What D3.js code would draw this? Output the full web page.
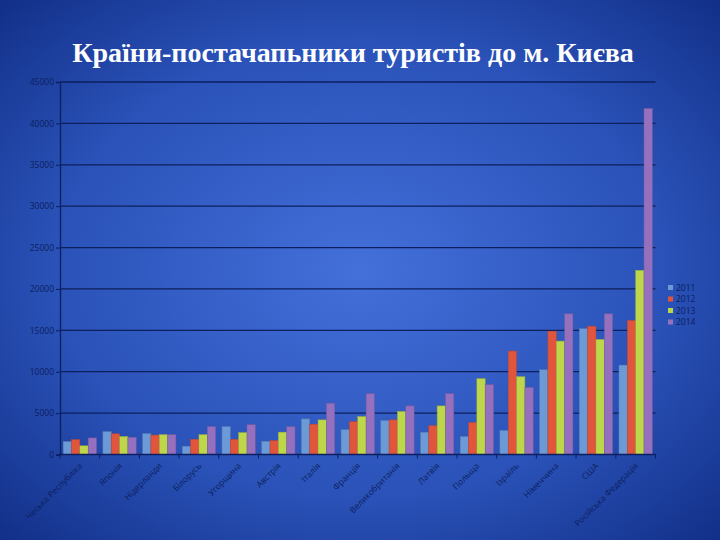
<!DOCTYPE html>
<html><head><meta charset="utf-8">
<script src="https://cdn.jsdelivr.net/npm/d3@7"></script>
<style>html,body{margin:0;padding:0;overflow:hidden;background:#1a3a9a}</style>
</head><body>
<script>
const categories = ["Чеська Республіка","Японія","Нідерланди","Білорусь","Угорщина","Австрія","Італія","Франція","Великобританія","Латвія","Польща","Ізраїль","Німеччина","США","Російська Федерація"];
const years = ["2011","2012","2013","2014"];
const values2011 = [1570,2770,2530,1000,3370,1600,4300,3000,4100,2690,2170,2900,10240,15200,10800];
const values2012 = [1800,2500,2350,1840,1840,1690,3660,3980,4180,3480,3860,12500,14900,15500,16200];
const values2013 = [1050,2170,2400,2400,2650,2700,4180,4580,5200,5870,9160,9400,13700,13900,22250];
const values2014 = [2000,2080,2400,3370,3600,3370,6200,7350,5870,7350,8430,8100,17000,17000,41800];
const yTicks = [0,5000,10000,15000,20000,25000,30000,35000,40000,45000];
const colors = ["#6b9ad6","#e2553d","#bdd64a","#9470bf"];
const series = [values2011, values2012, values2013, values2014];

const W = 720, H = 540;
const svg = d3.select("body").append("svg").attr("width", W).attr("height", H);
const defs = svg.append("defs");
const rg = defs.append("radialGradient").attr("id","bg").attr("cx","50%").attr("cy","50%").attr("r","70%");
rg.append("stop").attr("offset","0%").attr("stop-color","#4470da");
rg.append("stop").attr("offset","60%").attr("stop-color","#2a52b8");
rg.append("stop").attr("offset","100%").attr("stop-color","#123089");
svg.append("rect").attr("width",W).attr("height",H).attr("fill","url(#bg)");

svg.append("text").attr("x",353).attr("y",62).attr("text-anchor","middle")
  .attr("font-family","'Liberation Serif', 'DejaVu Serif', serif").attr("font-weight","bold")
  .attr("font-size",28).attr("fill","#ffffff")
  .text("Країни-постачапьники туристів до м. Києва");

const pLeft = 60, pRight = 655.5, pTop = 82, pBottom = 454.5;
const y = d3.scaleLinear().domain([0,45000]).range([pBottom, pTop]);
const x0 = d3.scaleBand().domain(categories).range([pLeft, pRight]).padding(0);
const bw = x0.bandwidth();
const x1 = d3.scaleBand().domain(years).range([bw*0.08, bw*0.92]).padding(0);

// gridlines
svg.append("g").selectAll("line").data(yTicks.filter(d=>d>0)).join("line")
  .attr("x1",pLeft).attr("x2",pRight).attr("y1",d=>y(d)).attr("y2",d=>y(d))
  .attr("stroke","#0c1f5e").attr("stroke-width",1.3);

// bars
const gCat = svg.append("g").selectAll("g").data(categories).join("g")
  .attr("transform",d=>`translate(${x0(d)},0)`);
gCat.selectAll("rect").data((c,i)=>years.map((yr,k)=>({yr,k,v:series[k][i]}))).join("rect")
  .attr("x",d=>x1(d.yr)).attr("width",x1.bandwidth())
  .attr("y",d=>y(d.v)).attr("height",d=>pBottom-y(d.v))
  .attr("fill",d=>colors[d.k]).attr("stroke",d=>d3.color(colors[d.k]).darker(0.6)).attr("stroke-width",0.5);

// y axis
const yAxis = d3.axisLeft(y).tickValues(yTicks).tickSize(4).tickFormat(d3.format("d"));
const ya = svg.append("g").attr("transform",`translate(${pLeft},0)`).call(yAxis);
ya.select(".domain").attr("stroke","#0c1f5e").attr("stroke-width",1.3);
ya.selectAll(".tick line").attr("stroke","#0c1f5e");
ya.selectAll(".tick text").attr("fill","#0c1f5e").attr("font-family","'Open Sans', 'DejaVu Sans', sans-serif").attr("font-size",8.5).attr("x",-6);

// x axis
const xa = svg.append("g").attr("transform",`translate(0,${pBottom})`);
xa.append("line").attr("x1",pLeft).attr("x2",pRight).attr("stroke","#0c1f5e").attr("stroke-width",1.3);
xa.selectAll("line.t").data(d3.range(categories.length+1)).join("line").attr("class","t")
  .attr("x1",i=>pLeft+i*bw).attr("x2",i=>pLeft+i*bw).attr("y1",0).attr("y2",4)
  .attr("stroke","#0c1f5e");
xa.selectAll("text").data(categories).join("text")
  .attr("transform",d=>`translate(${x0(d)+bw/2+3},${12}) rotate(-45)`)
  .attr("text-anchor","end").attr("fill","#0c1f5e")
  .attr("font-family","'Open Sans', 'DejaVu Sans', sans-serif").attr("font-size",8.5)
  .text(d=>d);

// legend
const lg = svg.append("g").attr("transform","translate(668,285)");
years.forEach((yr,k)=>{
  const g = lg.append("g").attr("transform",`translate(0,${k*11.5})`);
  g.append("rect").attr("width",5).attr("height",5).attr("fill",colors[k]);
  g.append("text").attr("x",8).attr("y",5.5).attr("fill","#0c1f5e")
    .attr("font-family","'Open Sans', 'DejaVu Sans', sans-serif").attr("font-size",8.5).text(yr);
});
</script>
</body></html>
